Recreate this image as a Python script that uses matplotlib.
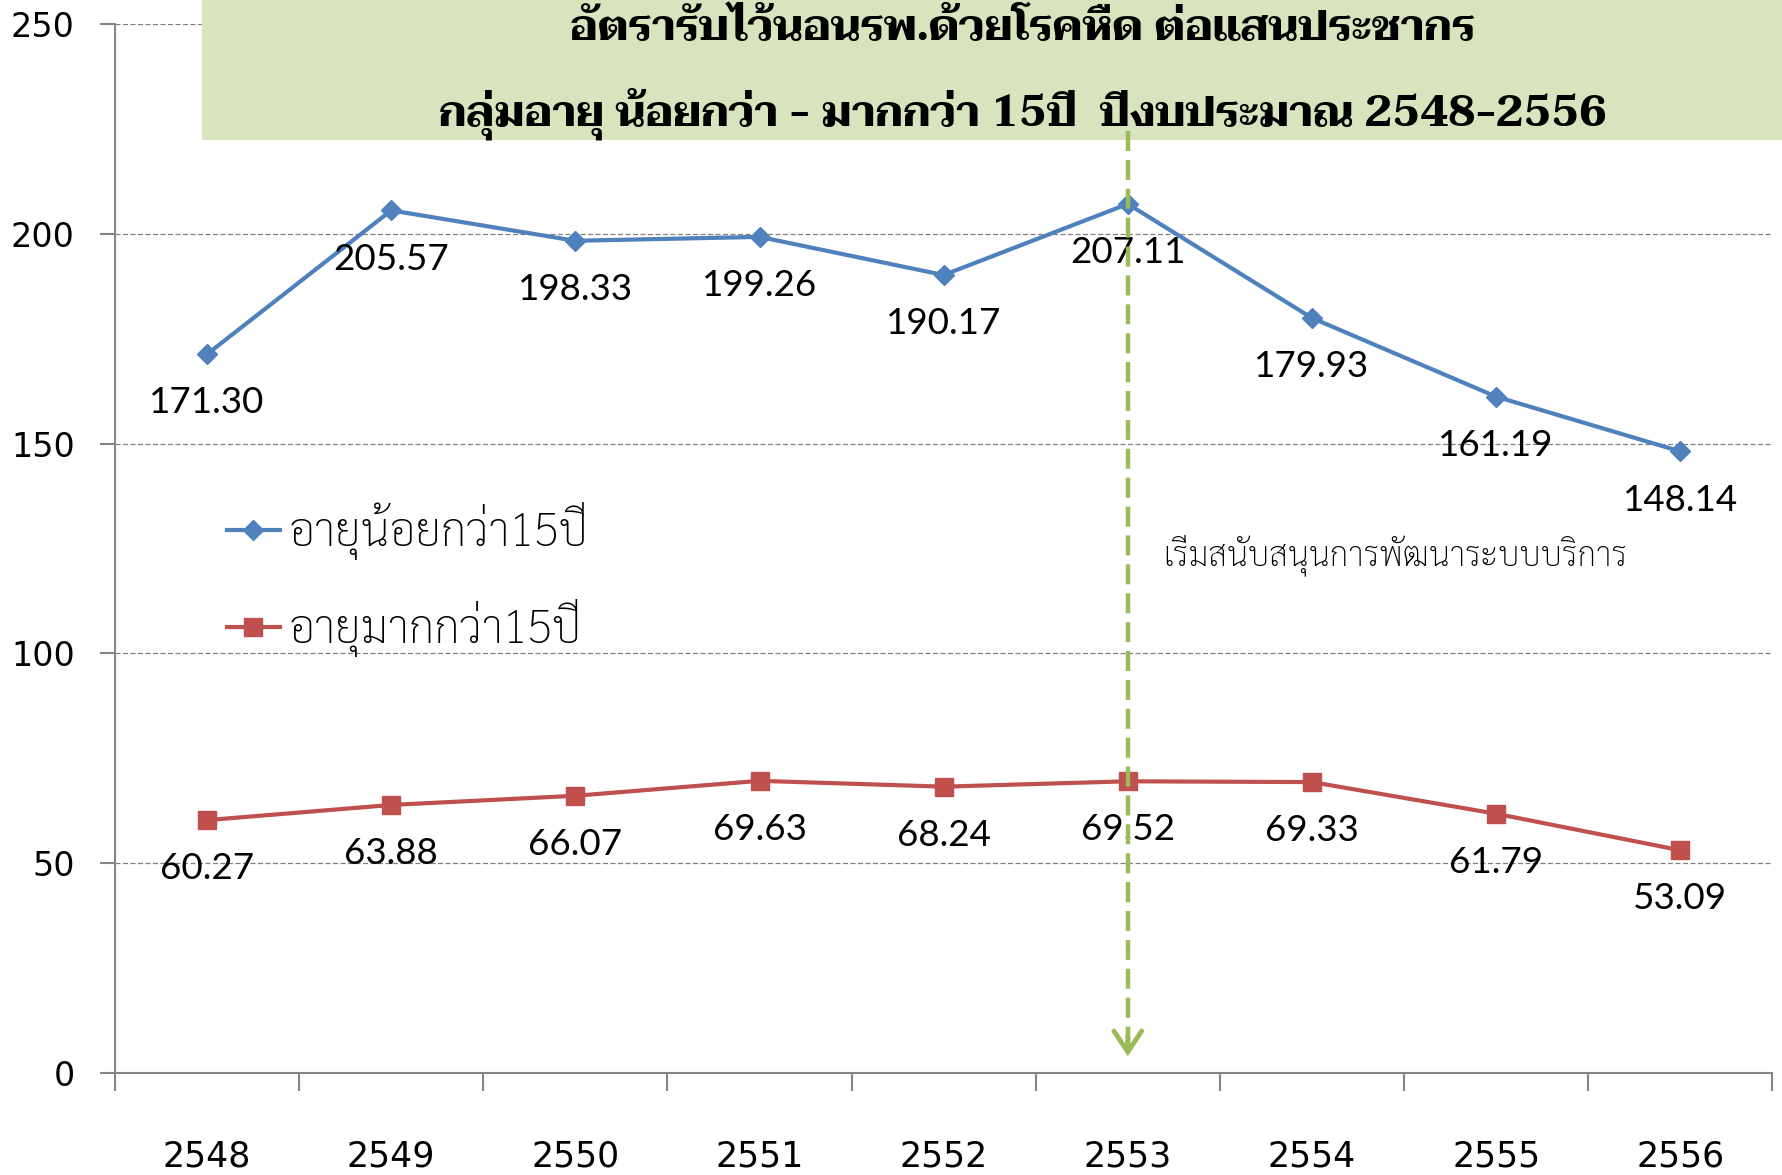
import numpy as np
import matplotlib
matplotlib.use("Agg")
from matplotlib import pyplot as plt
from matplotlib.patches import Rectangle

# ข้อมูล
years = ["2548", "2549", "2550", "2551", "2552", "2553", "2554", "2555", "2556"]
under15 = [171.30, 205.57, 198.33, 199.26, 190.17, 207.11, 179.93, 161.19, 148.14]
over15 = [60.27, 63.88, 66.07, 69.63, 68.24, 69.52, 69.33, 61.79, 53.09]
series_names = ["อายุน้อยกว่า15ปี", "อายุมากกว่า15ปี"]
title_lines = ["อัตรารับไว้นอนรพ.ด้วยโรคหืด ต่อแสนประชากร",
               "กลุ่มอายุ น้อยกว่า - มากกว่า 15ปี  ปีงบประมาณ 2548-2556"]
note_text = "เริ่มสนับสนุนการพัฒนาระบบบริการ"
start_year = "2553"

thai = ["Sarabun", "DejaVu Sans"]
thai_title = ["Taviraj", "DejaVu Serif"]
num_font = ["Lato", "DejaVu Sans"]

fig = plt.figure(figsize=(17.83, 11.75), dpi=100)
ax = fig.add_axes([0.0645, 0.0868, 0.9295, 0.8928])

x = np.arange(len(years))
ax.plot(x, under15, color="#4F81BD", lw=3, marker="D", ms=10.5, label=series_names[0], zorder=3)
ax.plot(x, over15, color="#C0504D", lw=3, marker="s", ms=12.5, label=series_names[1], zorder=3)

# ป้ายค่าใต้จุด
for xi, v in zip(x, under15):
    ax.annotate(f"{v:.2f}", (xi, v), xytext=(0, -35), textcoords="offset points",
                ha="center", va="center", fontsize=26.5, family=num_font, zorder=4)
for xi, v in zip(x, over15):
    ax.annotate(f"{v:.2f}", (xi, v), xytext=(0, -35), textcoords="offset points",
                ha="center", va="center", fontsize=26.5, family=num_font, zorder=4)

ax.set_xlim(-0.5, len(years) - 0.5)
ax.set_ylim(0, 250)
ax.set_yticks([0, 50, 100, 150, 200, 250])
ax.set_xticks(np.arange(len(years) + 1) - 0.5)
ax.set_xticklabels([])
ax.set_xticks(x, minor=True)
ax.set_xticklabels(years, minor=True, fontsize=25)
ax.tick_params(axis="x", which="major", length=13, color="#868686", width=1.5)
ax.tick_params(axis="x", which="minor", length=0, pad=48)
ax.tick_params(axis="y", length=11, color="#868686", width=1.5, labelsize=24, pad=18)
ax.grid(axis="y", ls=(0, (4, 2)), color="#808080", lw=0.9)
for s in ["top", "right"]:
    ax.spines[s].set_visible(False)
for s in ["left", "bottom"]:
    ax.spines[s].set_color("#868686")
    ax.spines[s].set_linewidth(1.5)

leg = ax.legend(loc="center left", bbox_to_anchor=(0.0676, 0.47), frameon=False,
                prop={"family": thai, "size": 33, "weight": "light"}, handlelength=1.15,
                handletextpad=0.2, labelspacing=0.85, borderpad=0, borderaxespad=0)

# กล่องหัวเรื่อง
box = Rectangle((202 / 1783, 1 - 140 / 1175), 1 - 202 / 1783, 140 / 1175,
                transform=fig.transFigure, facecolor="#D7E4BD", edgecolor="none",
                clip_on=False, zorder=5)
ax.add_artist(box)
ax.text(1023 / 1783, 0.966, title_lines[0], transform=fig.transFigure, ha="center",
        va="baseline", fontsize=31, fontweight="bold", family=thai_title, zorder=6, clip_on=False)
ax.text(1023 / 1783, 0.893, title_lines[1], transform=fig.transFigure, ha="center",
        va="baseline", fontsize=31, fontweight="bold", family=thai_title, zorder=6, clip_on=False)

# ลูกศรเส้นประ
xi = years.index(start_year)
ax.plot([xi, xi], [224.5, 6], color="#9BBB59", lw=3.2, ls=(0, (4.5, 2)), zorder=7,
        clip_on=False)
ax.annotate("", xy=(xi, 4), xytext=(xi, 9),
            arrowprops=dict(arrowstyle="->,head_length=0.75,head_width=0.5", color="#9BBB59",
                            lw=3.5, mutation_scale=20, shrinkA=0, shrinkB=0,
                            joinstyle="miter"),
            zorder=7, annotation_clip=False)
ax.text(5.19, 123.5, note_text, ha="left", va="center", fontsize=24, family=thai,
        fontweight="light", zorder=4)

fig.savefig("out.png", dpi=100)
